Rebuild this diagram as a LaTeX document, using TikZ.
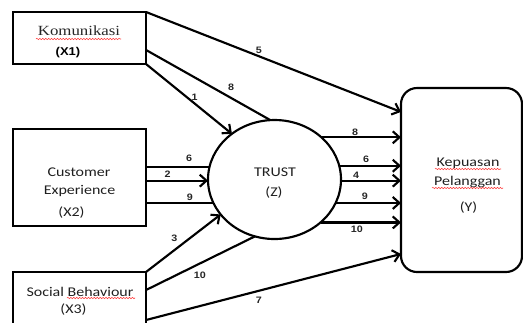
\documentclass[tikz,border=0pt]{standalone}
\usepackage{fontspec}
\usepackage{graphicx}
\usetikzlibrary{shapes.geometric,arrows.meta,calc,decorations.pathmorphing}
\newfontfamily\calib{Carlito}
\newfontfamily\tnr{Liberation Serif}
\newfontfamily\arl{Liberation Sans}
\newcommand\sxw[1]{\scalebox{1.2}[1]{#1}}
\newcommand\sxl[1]{\scalebox{1.15}[1]{#1}}
\begin{document}
\begin{tikzpicture}[x=0.75pt,y=-0.75pt,
 box/.style={draw, line width=1.6pt, inner sep=0, outer sep=0},
 conn/.style={line width=1.6pt},
 arr/.style={conn, -{Straight Barb[length=5pt,width=9pt]}},
 lbl/.style={font=\arl\bfseries\fontsize{7}{8}\selectfont, text=black!85, inner sep=0},
 txt/.style={font=\calib\fontsize{10}{12}\selectfont, text=black!88, inner sep=0, text height=0.65em, text depth=0.2em},
 txtb/.style={txt, font=\calib\fontsize{10}{11}\selectfont},
 wavy/.style={draw=red!80, line width=0.4pt, decorate, decoration={snake, amplitude=0.5pt, segment length=2.2pt}}
]
\path[use as bounding box] (0,0) rectangle (523,322);
\clip (0,0) rectangle (523,322);

% boxes
\node[box, minimum width=99.75pt, minimum height=39pt] (X1) at (79.5,38) {};
\node[box, minimum width=99.75pt, minimum height=72.75pt] (X2) at (79.5,177.5) {};
\node[box, minimum width=99.75pt, minimum height=47.25pt] (X3) at (79.5,303.5) {};
\node[box, ellipse, minimum width=99.75pt, minimum height=89.25pt] (Z) at (274.5,179.5) {};
\node[box, rounded corners=12pt, minimum width=90.75pt, minimum height=138pt] (Y) at (461.5,180) {};

% texts
\node[txt, font=\tnr\fontsize{10.5}{12}\selectfont, text=black!85] (tK) at (79,32) {\sxw{Komunikasi}};
\node[txt, font=\arl\bfseries\fontsize{8.5}{10}\selectfont, text=black] (tX1) at (68,52) {\sxl{(X1)}};
\node[txt] (tC) at (79,173) {\sxw{Customer}};
\node[txt] (tE) at (79.5,191) {\sxw{Experience}};
\node[txtb] (tX2) at (71.5,213) {\sxw{(X2)}};
\node[txt] (tS) at (80,293) {\sxw{Social Behaviour}};
\node[txtb] (tX3) at (73.5,310) {\sxw{(X3)}};
\node[txt] (tT) at (275,173) {\sxw{TRUST}};
\node[txtb] (tZ) at (274,193) {\sxw{(Z)}};
\node[txt] (tKe) at (468,163) {\sxw{Kepuasan}};
\node[txt] (tP) at (467.5,182) {\sxw{Pelanggan}};
\node[txtb] (tY) at (468.5,208) {\sxw{(Y)}};

% spell-check underlines
\draw[wavy] (36,39) -- (121,39);
\draw[wavy] (67,298) -- (135,298);
\draw[wavy] (435,169) -- (501,169);
\draw[wavy] (432,188) -- (503,188);

% X1 connectors
\draw[arr] (X1.north east) -- ($(Y.north west)!0.13!(Y.south west)$) node[lbl,pos=0.443,yshift=4.5pt]{\sxl{5}};
\draw[conn] ($(X1.north east)!0.73!(X1.south east)$) -- (Z.94.3) node[lbl,pos=0.685,yshift=8pt]{\sxl{8}};
\draw[arr] (X1.south east) -- (Z.133.2) node[lbl,pos=0.566,yshift=5pt]{\sxl{1}};

% X2 connectors
\draw[conn] (X2.east |- Z.169.1) -- (Z.169.1) node[lbl,pos=0.68,yshift=6.5pt]{\sxl{6}};
\draw[arr] (X2.east |- Z.181.3) -- (Z.181.3) node[lbl,pos=0.35,yshift=5pt]{\sxl{2}};
\draw[conn] (X2.east |- Z.201) -- (Z.201) node[lbl,pos=0.65,yshift=4.5pt]{\sxl{9}};

% X3 connectors
\draw[arr] (X3.north east) -- (Z.213.1) node[lbl,pos=0.38,yshift=9pt]{\sxl{3}};
\draw[conn] ($(X3.north east)!0.286!(X3.south east)$) -- (Z.251) node[lbl,pos=0.495,yshift=-9pt]{\sxl{10}};
\draw[arr] ($(X3.north east)!0.762!(X3.south east)$) -- ($(Y.north west)!0.902!(Y.south west)$) node[lbl,pos=0.443,yshift=-7.5pt]{\sxl{7}};

% Z to Y
\draw[arr] (Z.42.4) -- (Z.42.4 -| Y.west) node[lbl,pos=0.425,yshift=4pt]{\sxl{8}};
\draw[arr] (Z.12.7) -- (Z.12.7 -| Y.west) node[lbl,pos=0.435,yshift=4.5pt]{\sxl{6}};
\draw[arr] (Z.359.6) -- (Z.359.6 -| Y.west) node[lbl,pos=0.25,yshift=4.2pt]{\sxl{4}};
\draw[arr] (Z.339) -- (Z.339 -| Y.west) node[lbl,pos=0.446,yshift=5pt]{\sxl{9}};
\draw[arr] (Z.317.6) -- (Z.317.6 -| Y.west) node[lbl,pos=0.45,yshift=-5.25pt]{\sxl{10}};
\end{tikzpicture}
\end{document}
